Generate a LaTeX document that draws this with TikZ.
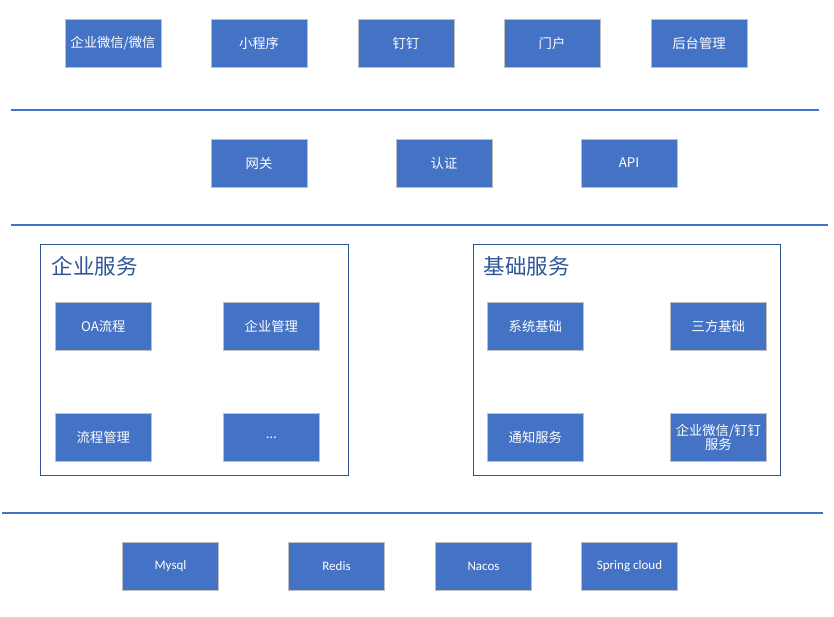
\documentclass[tikz,border=0pt]{standalone}
\usepackage{fontspec}
\newfontfamily\cjk{Noto Sans CJK SC}
\newfontfamily\calibri{Carlito}
\definecolor{boxblue}{HTML}{4472C4}
\definecolor{boxgray}{HTML}{BFBFBF}
\definecolor{groupblue}{HTML}{2F5597}
\begin{document}
\begin{tikzpicture}[x=1pt,y=-1pt,
		blockbox/.style={draw=boxgray,line width=0.8pt,fill=boxblue,text=white,
			minimum width=96pt,minimum height=48pt,inner sep=1pt,align=center,
			font=\cjk\fontsize{13.3}{16}\selectfont},
		basebox/.style={blockbox,font=\calibri\fontsize{13}{16}\selectfont},
		groupbox/.style={draw=groupblue,line width=0.9pt,minimum width=308pt,minimum height=231pt},
		grouptitle/.style={anchor=west,inner sep=0pt,text=groupblue,font=\cjk\fontsize{21.5}{25}\selectfont},
		sepline/.style={draw=boxblue,line width=1.6pt}]
	\useasboundingbox (0,0) rectangle (834,616);

	% 接入层
	\node[blockbox] (wechat) at (113,43) {企业微信/微信};
	\node[blockbox] (miniapp) at (259,43) {小程序};
	\node[blockbox] (dingtalk) at (406,43) {钉钉};
	\node[blockbox] (portal) at (552,43) {门户};
	\node[blockbox] (admin) at (699,43) {后台管理};

	\draw[sepline] (11,110) -- (819,110);

	% 网关层
	\node[blockbox] (gateway) at (259,163) {网关};
	\node[blockbox] (auth) at (444,163) {认证};
	\node[blockbox] (api) at (629,163) {API};

	\draw[sepline] (11,225) -- (828,225);

	% 服务层
	\node[groupbox] (bizgroup) at (194.7,360.3) {};
	\node[grouptitle] (biztitle) at (51.5,266.5) {企业服务};
	\node[blockbox] (oaflow) at (103.3,326.3) {OA流程};
	\node[blockbox] (bizmgr) at (271.3,326.3) {企业管理};
	\node[blockbox] (flowmgr) at (103.3,437.3) {流程管理};
	\node[blockbox] (more) at (271.3,437.3) {...};

	\node[groupbox,minimum width=307.7pt] (basegroup) at (626.8,360.3) {};
	\node[grouptitle] (basetitle) at (483.5,266.5) {基础服务};
	\node[blockbox] (sysbase) at (535.3,326.3) {系统基础};
	\node[blockbox] (thirdbase) at (718.3,326.3) {三方基础};
	\node[blockbox] (notify) at (535.3,437.3) {通知服务};
	\node[blockbox] (wxdd) at (718.3,437.3) {企业微信/钉钉\\[-2pt]服务};

	\draw[sepline] (2,513) -- (823,513);

	% 基础设施
	\foreach \name/\x/\label in {mysql/170.5/Mysql, redis/336.5/Redis, nacos/483.5/Nacos, spring/629.5/Spring cloud}{
			\node[basebox] (\name) at (\x,566) {\label};
		}
\end{tikzpicture}
\end{document}
